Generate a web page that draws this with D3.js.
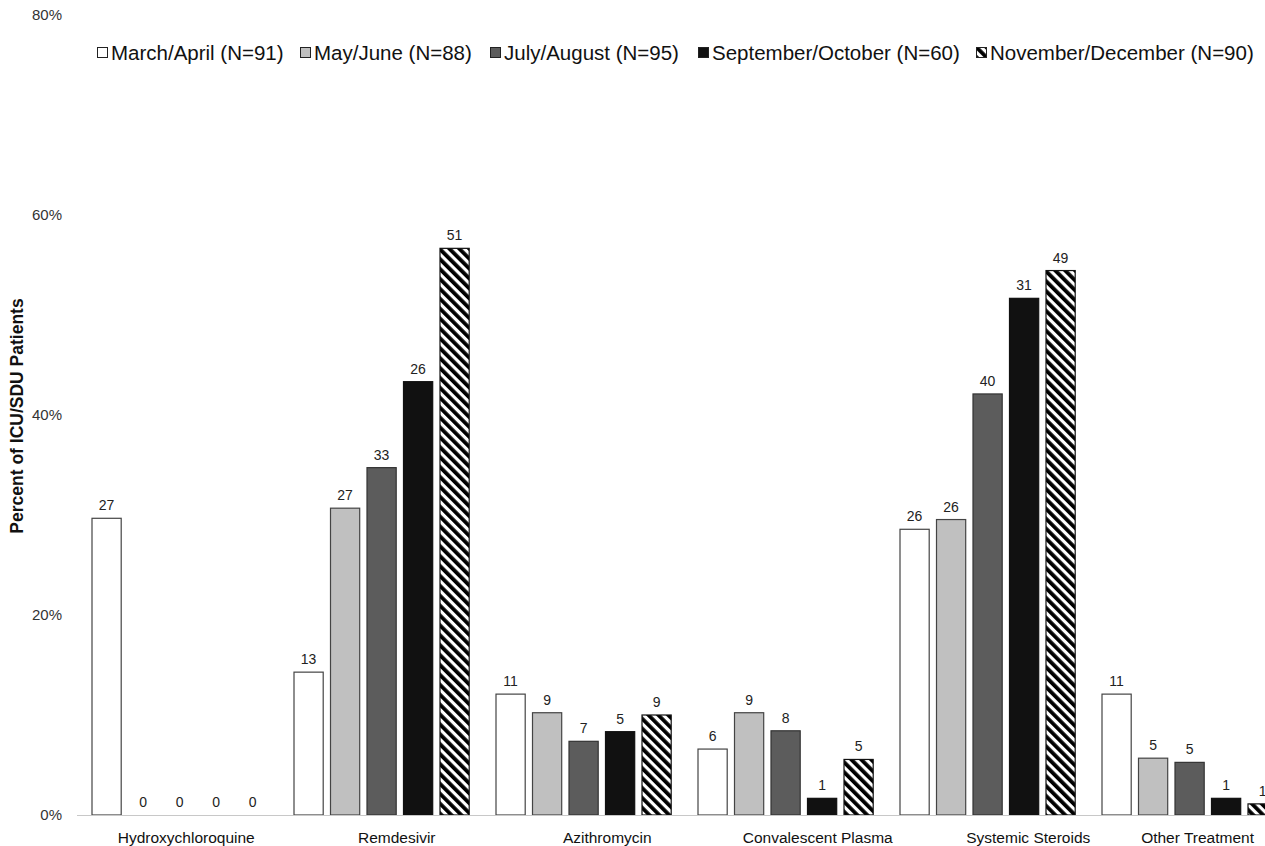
<!DOCTYPE html>
<html>
<head>
<meta charset="utf-8">
<script src="https://cdn.jsdelivr.net/npm/d3@7"></script>
<style>
  html, body { margin: 0; padding: 0; background: #fff; }
  svg { display: block; font-family: "Liberation Sans", Arial, sans-serif; }
</style>
</head>
<body>
<svg id="chart" width="1265" height="846"></svg>
<script>
const categories = ["Hydroxychloroquine", "Remdesivir", "Azithromycin", "Convalescent Plasma", "Systemic Steroids", "Other Treatment"];
const seriesNames = ["March/April", "May/June", "July/August", "September/October", "November/December"];
const seriesN = [91, 88, 95, 60, 90];
// patient counts (shown as bar labels); bar height = count / N
const countsMarApr = [27, 13, 11, 6, 26, 11];
const countsMayJun = [0, 27, 9, 9, 26, 5];
const countsJulAug = [0, 33, 7, 8, 40, 5];
const countsSepOct = [0, 26, 5, 1, 31, 1];
const countsNovDec = [0, 51, 9, 5, 49, 1];
const yTicks = [0, 20, 40, 60, 80];

const allCounts = [countsMarApr, countsMayJun, countsJulAug, countsSepOct, countsNovDec];
const fills = ["#ffffff", "#c0c0c0", "#5c5c5c", "#111111", "url(#hatch)"];
const strokes = ["#444", "#444", "#333", "#111", "#111"];

const svg = d3.select("#chart");
const defs = svg.append("defs");
const pat = defs.append("pattern")
  .attr("id", "hatch").attr("patternUnits", "userSpaceOnUse")
  .attr("width", 7).attr("height", 7)
  .attr("patternTransform", "rotate(-45)");
pat.append("rect").attr("width", 7).attr("height", 7).attr("fill", "#fff");
pat.append("rect").attr("width", 3.8).attr("height", 7).attr("fill", "#000");

const y = d3.scaleLinear().domain([0, 80]).range([815, 15]);
const x0 = d3.scaleBand().domain(categories).range([78, 78 + 6 * 202]).padding(0);
const x1 = d3.scaleBand().domain(seriesNames).range([14, 14 + 36.5 * 4.8]).paddingInner(0.2).paddingOuter(0);
// label positions (category axis text)
const xl = d3.scaleBand().domain(categories).range([81, 81 + 6 * 210.5]);

// y axis labels
const yAxis = d3.axisLeft(y).tickValues(yTicks).tickFormat(d => d + "%").tickSize(0).tickPadding(0);
const gy = svg.append("g").attr("transform", "translate(62,0)").call(yAxis);
gy.select(".domain").remove();
gy.selectAll("text").attr("font-size", 15).attr("fill", "#333").attr("font-family", "Liberation Sans, Arial, sans-serif");

// y axis title
svg.append("text")
  .attr("transform", "translate(23,416) rotate(-90)")
  .attr("text-anchor", "middle")
  .attr("font-size", 17.5).attr("font-weight", "bold").attr("fill", "#111")
  .text("Percent of ICU/SDU Patients");

// bars
const data = [];
seriesNames.forEach((s, si) => {
  categories.forEach((c, ci) => {
    const cnt = allCounts[si][ci];
    data.push({ s, si, c, cnt, pct: cnt / seriesN[si] * 100 });
  });
});

const gBars = svg.append("g");
gBars.selectAll("rect").data(data).join("rect")
  .attr("x", d => x0(d.c) + x1(d.s))
  .attr("y", d => y(d.pct))
  .attr("width", x1.bandwidth())
  .attr("height", d => y(0) - y(d.pct))
  .attr("fill", d => fills[d.si])
  .attr("stroke", d => strokes[d.si])
  .attr("stroke-width", d => d.pct > 0 ? 1.2 : 0);

gBars.selectAll("text").data(data).join("text")
  .attr("x", d => x0(d.c) + x1(d.s) + x1.bandwidth() / 2)
  .attr("y", d => y(d.pct) - 8)
  .attr("text-anchor", "middle")
  .attr("font-size", 14).attr("fill", "#222")
  .text(d => d.cnt);

// x axis line
svg.append("line").attr("x1", 77).attr("x2", 1265).attr("y1", y(0) + 0.5).attr("y2", y(0) + 0.5)
  .attr("stroke", "#c8c8c8").attr("stroke-width", 1);

// category labels
const gx = svg.append("g");
gx.selectAll("text").data(categories).join("text")
  .attr("x", (d, i) => i === categories.length - 1 ? 1254 : xl(d) + xl.bandwidth() / 2)
  .attr("y", 843)
  .attr("text-anchor", (d, i) => i === categories.length - 1 ? "end" : "middle")
  .attr("font-size", 15.5).attr("fill", "#111")
  .text(d => d);

// legend
const legendX = [97, 300, 490, 698, 976];
const lg = svg.append("g");
seriesNames.forEach((s, i) => {
  const g = lg.append("g").attr("transform", `translate(${legendX[i]},0)`);
  g.append("rect").attr("x", 0.5).attr("y", 47.5).attr("width", 10).attr("height", 10)
    .attr("fill", fills[i]).attr("stroke", "#222").attr("stroke-width", 1);
  g.append("text").attr("x", 14).attr("y", 59.5).attr("font-size", 20.5).attr("fill", "#111")
    .text(`${s} (N=${seriesN[i]})`);
});
</script>
</body>
</html>
